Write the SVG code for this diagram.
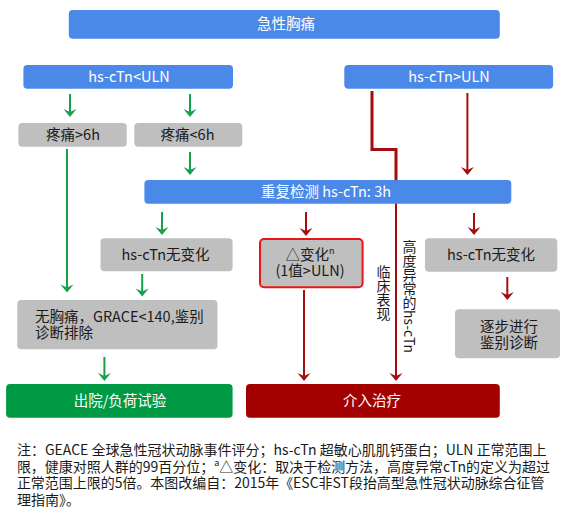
<svg xmlns="http://www.w3.org/2000/svg" width="565" height="514" viewBox="0 0 565 514">
<style>
text{font-family:"Noto Sans CJK SC","Noto Sans",sans-serif;font-size:14.5px}
.blue{fill:#4A89E8}
.gray{fill:#BFBFBF}
.w{fill:#FFFFFF;text-anchor:middle}
.k{fill:#1A1A1A;text-anchor:middle}
.gl{fill:none;stroke:#17A04A;stroke-width:2}
.rl{fill:none;stroke:#A50D0D;stroke-width:2}
.note{fill:#1A1A1A;font-size:14px}
.vt{fill:#1A1A1A;writing-mode:vertical-rl;font-size:14px}
</style>
<defs>
<marker id="ag" markerUnits="userSpaceOnUse" orient="auto" refX="0" refY="0" markerWidth="16" markerHeight="16" viewBox="-8 -8 16 16" overflow="visible">
<path d="M3,0 L-5,-6.5 L-2,0 L-5,6.5 Z" fill="#17A04A"/>
</marker>
<marker id="ar" markerUnits="userSpaceOnUse" orient="auto" refX="0" refY="0" markerWidth="16" markerHeight="16" viewBox="-8 -8 16 16" overflow="visible">
<path d="M3,0 L-5,-6.5 L-2,0 L-5,6.5 Z" fill="#A50D0D"/>
</marker>
</defs>
<rect width="565" height="514" fill="#FFFFFF"/>
<g id="connectors">
<line class="gl" x1="70" y1="94" x2="70" y2="114" marker-end="url(#ag)"/>
<line class="gl" x1="190" y1="94" x2="190" y2="114" marker-end="url(#ag)"/>
<line class="gl" x1="67" y1="149" x2="67" y2="289.5" marker-end="url(#ag)"/>
<line class="gl" x1="190" y1="152" x2="190" y2="172" marker-end="url(#ag)"/>
<path class="rl" style="stroke-width:3" d="M372,91 V149.5 H396 V180"/>
<line class="rl" x1="467.4" y1="93" x2="467.4" y2="172" marker-end="url(#ar)"/>
<line class="gl" x1="162" y1="212" x2="162" y2="232" marker-end="url(#ag)"/>
<line class="rl" x1="306" y1="212" x2="306" y2="233" marker-end="url(#ar)"/>
<line class="rl" x1="474" y1="213" x2="474" y2="232" marker-end="url(#ar)"/>
<line class="gl" x1="142.2" y1="274" x2="142.2" y2="293.5" marker-end="url(#ag)"/>
<line class="rl" x1="507.3" y1="277" x2="507.3" y2="297" marker-end="url(#ar)"/>
<line class="rl" x1="304" y1="290" x2="304" y2="378" marker-end="url(#ar)"/>
<line class="rl" x1="396" y1="203" x2="396" y2="378" marker-end="url(#ar)"/>
<line class="gl" x1="104.4" y1="357" x2="104.4" y2="378" marker-end="url(#ag)"/>
</g>
<g id="n-title"><rect class="blue" x="68.8" y="10" width="431" height="28.7" rx="4"/><text class="w" x="286" y="29.3">急性胸痛</text></g>
<g id="n-low"><rect class="blue" x="23.4" y="65" width="209.6" height="23.7" rx="4"/><text class="w" x="129" y="82">hs-cTn&lt;ULN</text></g>
<g id="n-high"><rect class="blue" x="344.3" y="65" width="208.8" height="23.7" rx="4"/><text class="w" x="449" y="82">hs-cTn&gt;ULN</text></g>
<g id="n-pain6a"><rect class="gray" x="18.4" y="123" width="108.4" height="23.7" rx="4"/><text class="k" x="73" y="140">疼痛&gt;6h</text></g>
<g id="n-pain6b"><rect class="gray" x="134.3" y="123" width="108" height="23.7" rx="4"/><text class="k" x="187.5" y="140">疼痛&lt;6h</text></g>
<g id="n-repeat"><rect class="blue" x="144.4" y="180" width="366.9" height="23.7" rx="4"/><text class="w" x="326" y="197">重复检测 hs-cTn: 3h</text></g>
<g id="n-nochange-l"><rect class="gray" x="100.5" y="238.3" width="132.1" height="33" rx="4"/><text class="k" x="165.5" y="260">hs-cTn无变化</text></g>
<g id="n-delta"><rect class="gray" x="260" y="239" width="102.6" height="48.3" rx="4" stroke="#E81515" stroke-width="2"/><text class="k" x="310" y="260">△变化<tspan font-size="9" dy="-6">n</tspan></text><text class="k" x="310" y="276">(1值&gt;ULN)</text></g>
<g id="n-nochange-r"><rect class="gray" x="425" y="238.3" width="132.3" height="33.4" rx="4"/><text class="k" x="491" y="260">hs-cTn无变化</text></g>
<g id="n-exclude"><rect class="gray" x="17.3" y="300" width="200.2" height="49.3" rx="4"/><text class="k" x="34.9" y="321.7" style="text-anchor:start">无胸痛，GRACE&lt;140,鉴别</text><text class="k" x="34.9" y="338.3" style="text-anchor:start">诊断排除</text></g>
<g id="n-diff"><rect class="gray" x="455" y="309.3" width="105" height="49" rx="4"/><text class="k" x="509" y="331.7">逐步进行</text><text class="k" x="509" y="348.3">鉴别诊断</text></g>
<g id="n-discharge"><rect x="6.1" y="384" width="226.5" height="33.7" rx="4" fill="#009A44"/><text class="w" x="120" y="406">出院/负荷试验</text></g>
<g id="n-treat"><rect x="246" y="384" width="253.8" height="33.7" rx="4" fill="#A30000"/><text class="w" x="372" y="406">介入治疗</text></g>
<g id="labels">
<text class="vt" x="383.5" y="265">临床表现</text>
<text class="vt" x="409.5" y="240">高度异常的hs-cTn</text>
</g>
<g id="notes">
<text class="note" x="16.9" y="455" textLength="529.7" lengthAdjust="spacingAndGlyphs">注：GEACE 全球急性冠状动脉事件评分；hs-cTn 超敏心肌肌钙蛋白；ULN 正常范围上</text>
<text class="note" x="16.9" y="471.7" textLength="533" lengthAdjust="spacingAndGlyphs">限，健康对照人群的99百分位；<tspan font-size="9" dy="-6">a</tspan><tspan dy="6">△变化：取决于检测方法，高度异常cTn的定义为超过</tspan></text>
<text class="note" x="16.9" y="488.4" textLength="527.6" lengthAdjust="spacingAndGlyphs">正常范围上限的5倍。本图改编自：2015年《ESC非ST段抬高型急性冠状动脉综合征管</text>
<text class="note" x="16.9" y="505">理指南》。</text>
</g>
</svg>
